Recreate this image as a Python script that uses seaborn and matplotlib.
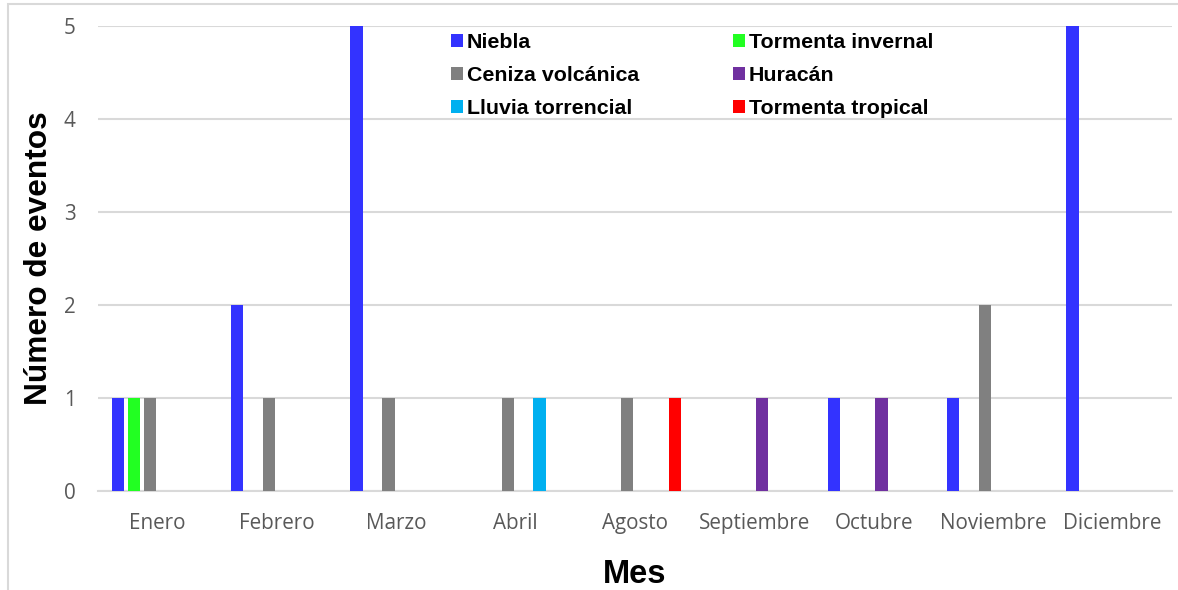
import matplotlib
matplotlib.use("Agg")
import matplotlib.pyplot as plt
import matplotlib.patches as mpatches
import pandas as pd
import seaborn as sns

# Monthly count of weather events by type
meses = ["Enero", "Febrero", "Marzo", "Abril", "Agosto",
         "Septiembre", "Octubre", "Noviembre", "Diciembre"]
niebla = [1, 2, 5, 0, 0, 0, 1, 1, 5]
tormenta_invernal = [1, 0, 0, 0, 0, 0, 0, 0, 0]
ceniza_volcanica = [1, 1, 1, 1, 1, 0, 0, 2, 0]
huracan = [0, 0, 0, 0, 0, 1, 1, 0, 0]
lluvia_torrencial = [0, 0, 0, 1, 0, 0, 0, 0, 0]
tormenta_tropical = [0, 0, 0, 0, 1, 0, 0, 0, 0]

series = {
    "Niebla": niebla,
    "Tormenta invernal": tormenta_invernal,
    "Ceniza volcánica": ceniza_volcanica,
    "Huracán": huracan,
    "Lluvia torrencial": lluvia_torrencial,
    "Tormenta tropical": tormenta_tropical,
}
colores = ["#3333FF", "#22FF22", "#808080", "#7030A0", "#00B0F0", "#FF0000"]

rows = []
for tipo, vals in series.items():
    for mes, v in zip(meses, vals):
        rows.append({"Mes": mes, "Tipo": tipo, "Eventos": v})
df = pd.DataFrame(rows)

sns.set_theme(style="white")
plt.rcParams["font.family"] = ["Liberation Sans", "DejaVu Sans"]

fig = plt.figure(figsize=(11.78, 5.90), dpi=100)
ax = fig.add_axes([98 / 1178, 99 / 590, 1074 / 1178, 465 / 590])

sns.barplot(data=df, x="Mes", y="Eventos", hue="Tipo", order=meses,
            hue_order=list(series.keys()), palette=colores,
            width=0.8, gap=0.23, linewidth=0, saturation=1, ax=ax,
            errorbar=None, zorder=3)

ax.set_xlim(-0.5, len(meses) - 0.5)
ax.set_ylim(0, 5)
ax.set_yticks(range(0, 6))
ax.yaxis.grid(True, color="#D9D9D9", linewidth=1.5, zorder=0)
ax.set_axisbelow(True)
for s in ["top", "right", "left"]:
    ax.spines[s].set_visible(False)
ax.spines["bottom"].set_color("#D9D9D9")
ax.spines["bottom"].set_linewidth(1.5)
ax.tick_params(axis="both", length=0, colors="#595959", labelsize=14.9)
ax.tick_params(axis="y", pad=16)
ax.tick_params(axis="x", pad=16)
for lab in ax.get_xticklabels() + ax.get_yticklabels():
    lab.set_family("Open Sans")

ax.set_xlabel("Mes", fontsize=23.5, fontweight="bold", color="black", labelpad=18)
ax.set_ylabel("Número de eventos", fontsize=22.8, fontweight="bold", color="black", labelpad=7)

# two-column legend filled row by row
handles, labels = ax.get_legend_handles_labels()
order = [0, 2, 4, 1, 3, 5]
ax.legend([handles[i] for i in order], [labels[i] for i in order],
          ncol=2, frameon=False, loc="upper left", labelcolor="black",
          bbox_to_anchor=(451 / 1178, 1 - 33 / 590), bbox_transform=fig.transFigure,
          prop={"family": "Liberation Sans", "weight": "bold", "size": 15.4},
          handlelength=0.55, handleheight=0.55, handletextpad=0.2,
          columnspacing=4.38, labelspacing=0.65, borderpad=0, borderaxespad=0)

# light chart frame
fig.patches.append(mpatches.Rectangle((8 / 1178, -0.05), 1.2, 1 - 4 / 590 + 0.05,
                                      transform=fig.transFigure, fill=False,
                                      edgecolor="#D9D9D9", linewidth=1.5))

fig.savefig("out.png", dpi=100)
